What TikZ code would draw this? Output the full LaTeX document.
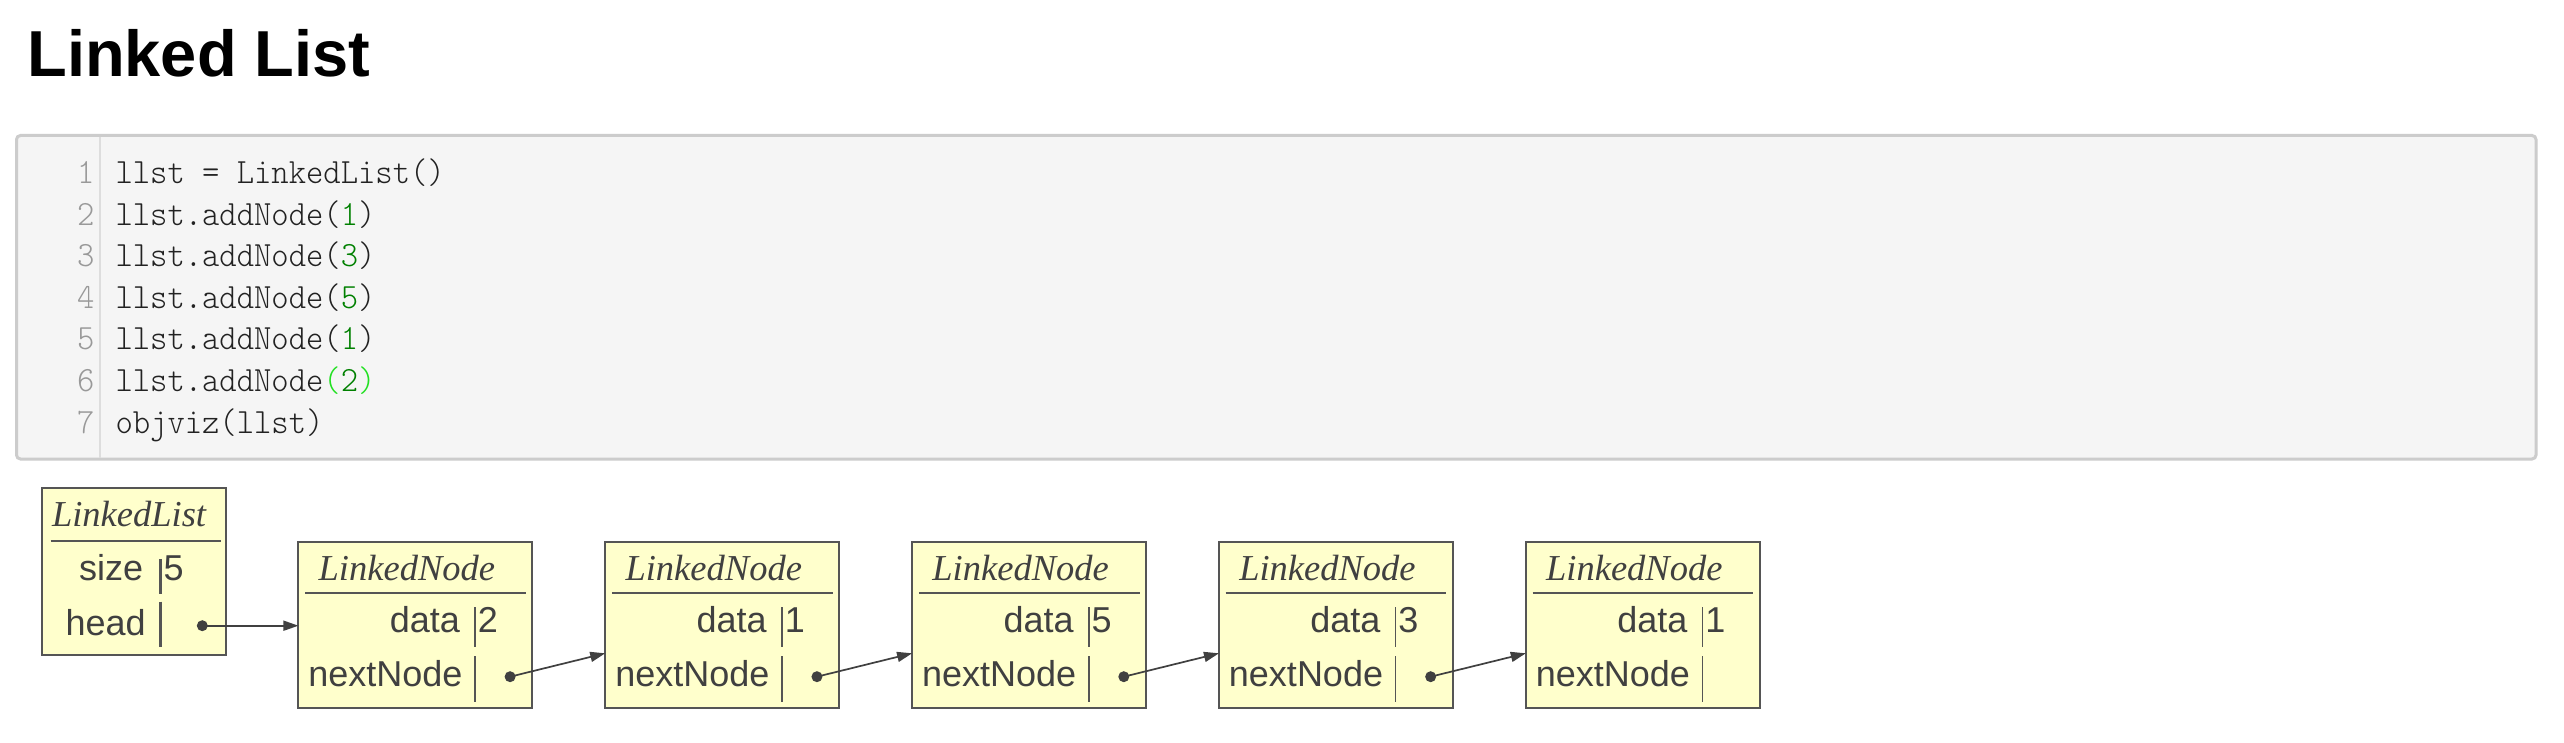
\documentclass[tikz,border=0pt]{standalone}
\usepackage{fontspec}
\usepackage{graphicx}
\usetikzlibrary{arrows.meta}
\newfontfamily\sansf{Liberation Sans}
\newfontfamily\seriff{Liberation Serif}
\definecolor{boxfill}{HTML}{FFFFCC}
\definecolor{boxline}{HTML}{555555}
\definecolor{txt}{HTML}{404040}
\definecolor{codebg}{HTML}{F5F5F5}
\definecolor{codeborder}{HTML}{CCCCCC}
\definecolor{gutterline}{HTML}{DDDDDD}
\definecolor{lnum}{HTML}{999999}
\definecolor{codetxt}{HTML}{222222}
\definecolor{numgreen}{HTML}{008000}
\definecolor{brightgreen}{HTML}{22E022}
\newcommand{\codeln}[1]{\scalebox{0.93}[1]{#1}}
\newcommand{\gn}[1]{\textcolor{numgreen}{#1}}
\tikzset{
  every node/.style={inner sep=0pt, outer sep=0pt},
  objbox/.style={draw=boxline, fill=boxfill, line width=2pt, anchor=north west},
  ulst/.style={draw=boxline, line width=2pt},
  thinbar/.style={draw=boxline, line width=1.5pt},
  thickbar/.style={draw=boxline, line width=3pt},
  clsname/.style={font=\seriff\itshape\fontsize{36.5}{40}\selectfont, text=txt, anchor=base west},
  fieldtxt/.style={font=\sansf\fontsize{36}{40}\selectfont, text=txt},
  codest/.style={font=\ttfamily\fontseries{l}\selectfont\fontsize{35.5}{40}\selectfont, text=codetxt, anchor=base west},
  lnumst/.style={font=\ttfamily\fontseries{l}\selectfont\fontsize{35.5}{40}\selectfont, text=lnum, anchor=base east},
  dotst/.style={circle, fill=txt, minimum size=11pt},
  ptr/.style={draw=txt, line width=1.7pt, -{Triangle[length=15pt,width=10pt]}, color=txt}
}
\begin{document}
\begin{tikzpicture}[x=1pt,y=-1pt]
\useasboundingbox (0,0) rectangle (2564,743);
\fill[white] (0,0) rectangle (2564,743);

% title
\node[anchor=base west, font=\sansf\bfseries\fontsize{65}{70}\selectfont, text=black] (title) at (27.3,77) {Linked List};

% code block
\node[draw=codeborder, fill=codebg, line width=3pt, rounded corners=4pt, anchor=north west,
      minimum width=2519.5pt, minimum height=323.5pt] (codebox) at (16.5,135.5) {};
\coordinate (gtop) at (100,137);
\coordinate (gbot) at (100,457.5);
\draw[gutterline, line width=2pt] (gtop) -- (gbot);

\foreach \k in {1,...,7} {
  \pgfmathsetmacro\yy{183.5+(\k-1)*41.6}
  \node[lnumst] (ln\k) at (94.5,\yy) {\codeln{\k}};
}
\node[codest] (c1) at (115.5,183.5)        {\codeln{llst = LinkedList()}};
\node[codest] (c2) at (115.5,225.1)        {\codeln{llst.addNode(\gn{1})}};
\node[codest] (c3) at (115.5,266.7)        {\codeln{llst.addNode(\gn{3})}};
\node[codest] (c4) at (115.5,308.3)        {\codeln{llst.addNode(\gn{5})}};
\node[codest] (c5) at (115.5,349.9)        {\codeln{llst.addNode(\gn{1})}};
\node[codest] (c6) at (115.5,391.5)        {\codeln{llst.addNode\textcolor{brightgreen}{(}\gn{2}\textcolor{brightgreen}{)}}};
\node[codest] (c7) at (115.5,433.1)        {\codeln{objviz(llst)}};

% LinkedList object
\node[objbox, minimum width=183.7pt, minimum height=166.7pt] (ll) at (42.3,488.3) {};
\node[clsname] (lltitle) at (52,526.7) {LinkedList};
\coordinate (llu1) at (50.7,541);
\coordinate (llu2) at (220.7,541);
\draw[ulst] (llu1) -- (llu2);
\node[fieldtxt, anchor=base east] (llsize) at (143.2,580.7) {size};
\node[fieldtxt, anchor=base west] (llsizev) at (163.5,580.7) {5};
\coordinate (llb1a) at (160,559);
\coordinate (llb1b) at (160,594.3);
\draw[thickbar] (llb1a) -- (llb1b);
\node[fieldtxt, anchor=base east] (llhead) at (145.7,635) {head};
\coordinate (llb2a) at (160,601.7);
\coordinate (llb2b) at (160,646.7);
\draw[thickbar] (llb2a) -- (llb2b);
\node[dotst] (hd) at (202.3,625.7) {};

% LinkedNode objects
\foreach \i/\v in {1/2,2/1,3/5,4/3,5/1} {
  \pgfmathsetmacro\L{298.4+(\i-1)*306.85}
  \node[objbox, minimum width=234pt, minimum height=166pt] (n\i) at (\L,541.7) {};
  \node[clsname] (t\i) at (\L+20.3,580.7) {LinkedNode};
  \coordinate (u\i a) at (\L+6.7,593.3);
  \coordinate (u\i b) at (\L+227.4,593.3);
  \draw[ulst] (u\i a) -- (u\i b);
  \node[fieldtxt, anchor=base east] (dk\i) at (\L+161.5,632.3) {data};
  \node[fieldtxt, anchor=base west] (dv\i) at (\L+179.5,632.3) {\v};
  \coordinate (b\i a) at (\L+176.7,607.3);
  \coordinate (b\i b) at (\L+176.7,646.7);
  \draw[thinbar] (b\i a) -- (b\i b);
  \node[fieldtxt, anchor=base west] (nk\i) at (\L+10,686.7) {nextNode};
  \coordinate (c\i a) at (\L+176.7,656);
  \coordinate (c\i b) at (\L+176.7,701.7);
  \draw[thinbar] (c\i a) -- (c\i b);
}
\foreach \i in {1,...,4} {
  \pgfmathsetmacro\L{298.4+(\i-1)*306.85}
  \node[dotst] (d\i) at (\L+211.7,676.7) {};
}

% pointers
\draw[ptr] (hd.center) -- (hd.center -| n1.west);
\foreach \i [evaluate=\i as \j using {int(\i+1)}] in {1,...,4} {
  \draw[ptr] (d\i.center) -- ([yshift=-28.6pt]n\j.west);
}
\end{tikzpicture}
\end{document}
